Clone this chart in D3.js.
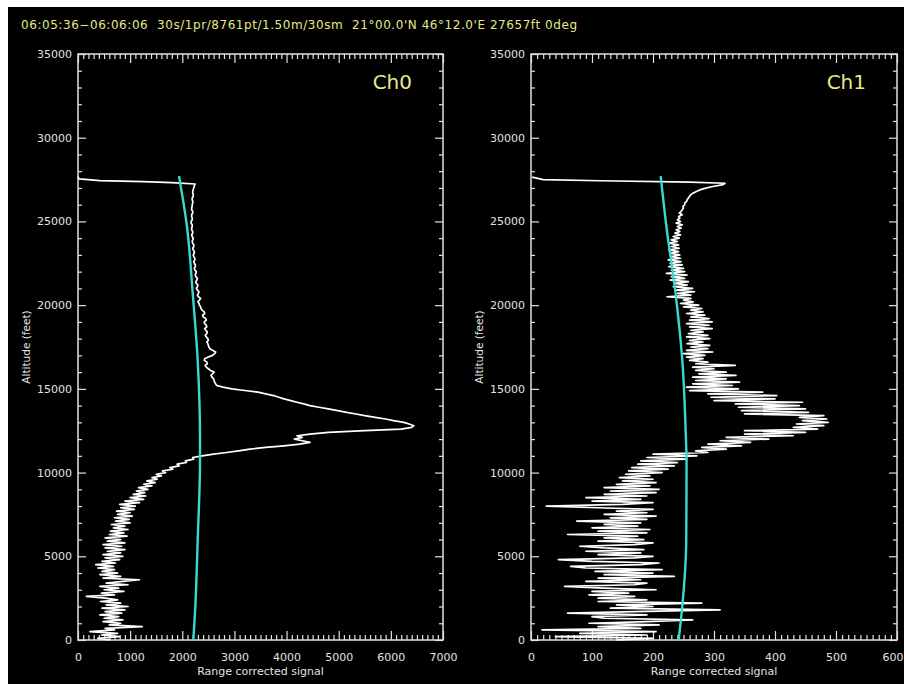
<!DOCTYPE html>
<html>
<head>
<meta charset="utf-8">
<script src="https://cdn.jsdelivr.net/npm/d3@7"></script>
<style>
  body { margin: 0; background: #fff; }
  svg { display: block; }
</style>
</head>
<body>
<div id="chart"></div>
<script>
// Header line
const titleText = "06:05:36\u221206:06:06  30s/1pr/8761pt/1.50m/30sm  21\u00b000.0'N 46\u00b012.0'E 27657ft 0deg";

// Profile sampling altitudes (feet), shared by both channels
const gridAlt = [
  0, 100, 200, 300, 400, 500, 600, 700, 800, 900,
  1000, 1100, 1200, 1300, 1400, 1500, 1600, 1700, 1800, 1900,
  2000, 2100, 2200, 2300, 2400, 2500, 2600, 2700, 2800, 2900,
  3000, 3100, 3200, 3300, 3400, 3500, 3600, 3700, 3800, 3900,
  4000, 4100, 4200, 4300, 4400, 4500, 4600, 4700, 4800, 4900,
  5000, 5100, 5200, 5300, 5400, 5500, 5600, 5700, 5800, 5900,
  6000, 6100, 6200, 6300, 6400, 6500, 6600, 6700, 6800, 6900,
  7000, 7100, 7200, 7300, 7400, 7500, 7600, 7700, 7800, 7900,
  8000, 8100, 8200, 8300, 8400, 8500, 8600, 8700, 8800, 8900,
  9000, 9100, 9200, 9300, 9400, 9500, 9600, 9700, 9800, 9900,
  10000, 10100, 10200, 10300, 10400, 10500, 10600, 10700, 10800, 10900,
  11000, 11100, 11200, 11300, 11400, 11500, 11600, 11700, 11800, 11900,
  12000, 12100, 12200, 12300, 12400, 12500, 12600, 12700, 12800, 12900,
  13000, 13100, 13200, 13300, 13400, 13500, 13600, 13700, 13800, 13900,
  14000, 14100, 14200, 14300, 14400, 14500, 14600, 14700, 14800, 14900,
  15000, 15100, 15200, 15300, 15400, 15500, 15600, 15700, 15800, 15900,
  16000, 16100, 16200, 16300, 16400, 16500, 16600, 16700, 16800, 16900,
  17000, 17100, 17200, 17300, 17400, 17500, 17600, 17700, 17800, 17900,
  18000, 18100, 18200, 18300, 18400, 18500, 18600, 18700, 18800, 18900,
  19000, 19100, 19200, 19300, 19400, 19500, 19600, 19700, 19800, 19900,
  20000, 20100, 20200, 20300, 20400, 20500, 20600, 20700, 20800, 20900,
  21000, 21100, 21200, 21300, 21400, 21500, 21600, 21700, 21800, 21900,
  22000, 22100, 22200, 22300, 22400, 22500, 22600, 22700, 22800, 22900,
  23000, 23100, 23200, 23300, 23400, 23500, 23600, 23700, 23800, 23900,
  24000, 24100, 24200, 24300, 24400, 24500, 24600, 24700, 24800, 24900,
  25000, 25100, 25200, 25300, 25400, 25500, 25600, 25700, 25800, 25900,
  26000, 26100, 26200, 26300, 26400, 26500, 26600, 26700, 26800, 26900,
  27000, 27100, 27200
];

// Ch0 range corrected signal
const ch0Signal = [
  620, 380, 800, 450, 760, 230, 700, 520, 1230, 600, 820,
  480, 860, 500, 780, 420, 840, 520, 900, 460, 960,
  540, 820, 430, 760, 520, 160, 700, 450, 880, 500,
  780, 420, 960, 540, 860, 1180, 480, 820, 420, 760,
  460, 700, 380, 680, 340, 720, 460, 800, 520, 860,
  480, 820, 560, 900, 520, 840, 480, 900, 560, 820,
  520, 940, 600, 880, 620, 960, 680, 900, 640, 1000,
  720, 980, 700, 1040, 760, 1000, 740, 1080, 820, 1100,
  800, 1180, 900, 1260, 1000, 1300, 1060, 1280, 1120, 1340,
  1160, 1420, 1260, 1480, 1320, 1520, 1420, 1600, 1500, 1680,
  1620, 1820, 1760, 1940, 1900, 2080, 2060, 2220, 2200, 2380,
  2600, 2850, 3080, 3300, 3600, 3950, 4250, 4450, 4300, 4150,
  4300, 4200, 4450, 4800, 5500, 6200, 6400, 6440, 6350, 6250,
  6050, 5900, 5700, 5500, 5330, 5150, 4980, 4800, 4620, 4450,
  4330, 4200, 4080, 3950, 3850, 3750, 3600, 3450, 3200, 2950,
  2780, 2660, 2640, 2620, 2610, 2600, 2570, 2550, 2580, 2610,
  2540, 2500, 2460, 2440, 2480, 2470, 2420, 2430, 2500, 2580,
  2620, 2640, 2580, 2530, 2510, 2500, 2490, 2470, 2500, 2490,
  2460, 2440, 2470, 2480, 2450, 2430, 2470, 2460, 2430, 2420,
  2460, 2450, 2400, 2390, 2430, 2420, 2380, 2360, 2350, 2330,
  2320, 2300, 2330, 2350, 2310, 2290, 2310, 2320, 2290, 2270,
  2290, 2300, 2270, 2260, 2280, 2290, 2260, 2250, 2260, 2270,
  2240, 2230, 2250, 2250, 2230, 2220, 2240, 2240, 2220, 2210,
  2230, 2230, 2210, 2200, 2220, 2220, 2200, 2190, 2200, 2210,
  2190, 2180, 2200, 2200, 2180, 2180, 2190, 2190, 2170, 2170,
  2190, 2190, 2180, 2180, 2200, 2200, 2180, 2180, 2190, 2190,
  2200, 2200, 2190, 2190, 2210, 2210, 2200, 2200, 2210, 2220,
  2230, 2240
];
const ch0TopAlt = [27237, 27316, 27376, 27435, 27540, 27680];
const ch0TopSignal = [2244, 1797, 1253, 420, 20, 0];

// Ch1 range corrected signal
const ch1Signal = [
  140, 200, 40, 190, 80, 205, 18, 180, 110, 210, 95,
  190, 265, 120, 100, 190, 60, 170, 310, 130, 200,
  140, 280, 110, 190, 110, 170, 95, 160, 100, 205,
  120, 55, 170, 190, 90, 180, 110, 235, 120, 200,
  105, 215, 90, 65, 180, 210, 100, 45, 170, 200,
  110, 180, 90, 185, 120, 80, 170, 200, 110, 185,
  120, 175, 60, 190, 110, 195, 100, 175, 120, 180,
  75, 190, 130, 205, 120, 190, 140, 200, 110, 25,
  150, 200, 100, 180, 90, 190, 120, 205, 130, 210,
  120, 195, 140, 205, 150, 200, 145, 195, 155, 215,
  160, 225, 165, 235, 175, 240, 180, 255, 190, 272,
  200, 290, 270, 320, 280, 345, 290, 360, 310, 390,
  320, 430, 350, 450, 350, 470, 430, 480, 435, 487,
  445, 485, 440, 480, 350, 455, 345, 450, 340, 440,
  335, 445, 300, 400, 295, 403, 290, 380, 260, 340,
  255, 330, 265, 342, 270, 320, 265, 336, 275, 320,
  270, 300, 265, 335, 270, 290, 260, 282, 255, 285,
  250, 298, 255, 290, 262, 293, 256, 282, 260, 293,
  255, 290, 258, 282, 262, 297, 260, 292, 255, 297,
  260, 292, 262, 285, 255, 282, 262, 280, 250, 275,
  245, 266, 250, 262, 223, 262, 240, 268, 238, 265,
  233, 256, 235, 258, 228, 252, 230, 256, 222, 252,
  230, 250, 226, 248, 228, 246, 225, 245, 230, 244,
  228, 242, 226, 243, 230, 242, 226, 240, 230, 243,
  233, 245, 236, 244, 238, 246, 240, 248, 238, 245,
  240, 244, 242, 248, 243, 246, 248, 250, 249, 252,
  252, 255, 256, 258, 260, 262, 266, 272, 278, 288,
  300, 315
];
const ch1TopAlt = [27280, 27350, 27430, 27500, 27650];
const ch1TopSignal = [318, 260, 113, 20, 2];

// Molecular (clear air) reference curves
const molAlt = [0, 2000, 6000, 10750, 12000, 16725, 20700, 24690, 27710];
const ch0Mol = [2212, 2250, 2296, 2340, 2340, 2295, 2200, 2090, 1937];
const ch1Mol = [242, 248, 254.5, 255, 254, 248, 237, 222, 212.6];

// Tick labels
const yTicks = [0, 5000, 10000, 15000, 20000, 25000, 30000, 35000];
const ch0XTicks = [0, 1000, 2000, 3000, 4000, 5000, 6000, 7000];
const ch1XTicks = [0, 100, 200, 300, 400, 500, 600];

const width = 904;
const height = 684;
const textColor = "#e2e2e2";
const yellow = "#e8e888";
const cyan = "#3cd8d2";
const font = "'DejaVu Sans', sans-serif";

const svg = d3.select("#chart").append("svg")
  .attr("width", width)
  .attr("height", height);

// Background (image sits slightly offset on white)
svg.append("rect").attr("width", width).attr("height", height).attr("fill", "#fff");
svg.append("rect")
  .attr("x", 8).attr("y", 7)
  .attr("width", width - 8).attr("height", height - 7)
  .attr("fill", "#000");

svg.append("text")
  .attr("x", 21)
  .attr("y", 29)
  .attr("fill", yellow)
  .attr("font-family", font)
  .attr("font-size", 12)
  .attr("textLength", 556)
  .attr("lengthAdjust", "spacing")
  .style("white-space", "pre")
  .text(titleText);

const panels = [
  { label: "Ch0", alt: gridAlt.concat(ch0TopAlt), signal: ch0Signal.concat(ch0TopSignal),
    mol: ch0Mol, xTicks: ch0XTicks, xMinor: 100, x0: 78, x1: 443 },
  { label: "Ch1", alt: gridAlt.concat(ch1TopAlt), signal: ch1Signal.concat(ch1TopSignal),
    mol: ch1Mol, xTicks: ch1XTicks, xMinor: 10, x0: 531, x1: 897 }
];

const yTop = 54;
const yBottom = 640;

function drawAxis(g, axis, tx, ty) {
  const a = g.append("g")
    .attr("transform", `translate(${tx},${ty})`)
    .call(axis);
  a.select(".domain").remove();
  a.attr("font-family", font).attr("font-size", 11);
  a.selectAll("line").attr("stroke", textColor).attr("stroke-width", 1.2);
  a.selectAll("text").attr("fill", textColor);
  return a;
}

panels.forEach(p => {
  const xMax = d3.max(p.xTicks);
  const x = d3.scaleLinear().domain([0, xMax]).range([p.x0, p.x1]);
  const y = d3.scaleLinear().domain([0, 35000]).range([yBottom, yTop]);
  const g = svg.append("g");

  const xMinor = d3.range(0, xMax, p.xMinor).filter(v => !p.xTicks.includes(v));
  const yMinor = d3.range(0, 35000, 1000).filter(v => !yTicks.includes(v));

  // Frame
  g.append("rect")
    .attr("x", p.x0).attr("y", yTop)
    .attr("width", p.x1 - p.x0).attr("height", yBottom - yTop)
    .attr("fill", "none")
    .attr("stroke", textColor)
    .attr("stroke-width", 1.5);

  // Ticks, all pointing inward
  const bottom = drawAxis(g, d3.axisBottom(x).tickValues(p.xTicks).tickSize(-9).tickPadding(13).tickFormat(d3.format("d")), 0, yBottom);
  // keep the last label inside the page
  bottom.selectAll("text").filter(d => x(d) + 12 > width)
    .attr("text-anchor", "end")
    .attr("x", d => width - 1 - x(d));
  drawAxis(g, d3.axisBottom(x).tickValues(xMinor).tickSize(-5).tickFormat(""), 0, yBottom);
  drawAxis(g, d3.axisTop(x).tickValues(p.xTicks).tickSize(-9).tickFormat(""), 0, yTop);
  drawAxis(g, d3.axisTop(x).tickValues(xMinor).tickSize(-5).tickFormat(""), 0, yTop);
  drawAxis(g, d3.axisLeft(y).tickValues(yTicks).tickSize(-8).tickPadding(6).tickFormat(d3.format("d")), p.x0, 0);
  drawAxis(g, d3.axisLeft(y).tickValues(yMinor).tickSize(-4).tickFormat(""), p.x0, 0);
  drawAxis(g, d3.axisRight(y).tickValues(yTicks).tickSize(-8).tickFormat(""), p.x1, 0);
  drawAxis(g, d3.axisRight(y).tickValues(yMinor).tickSize(-4).tickFormat(""), p.x1, 0);

  // Signal profile
  const line = d3.line().x(d => x(d[1])).y(d => y(d[0]));
  g.append("path")
    .datum(d3.zip(p.alt, p.signal))
    .attr("d", line)
    .attr("fill", "none")
    .attr("stroke", "#fff")
    .attr("stroke-width", 1.7)
    .attr("stroke-linejoin", "round");

  // Molecular curve
  const molLine = d3.line().x(d => x(d[1])).y(d => y(d[0])).curve(d3.curveMonotoneY);
  g.append("path")
    .datum(d3.zip(molAlt, p.mol))
    .attr("d", molLine)
    .attr("fill", "none")
    .attr("stroke", cyan)
    .attr("stroke-width", 2.4);

  // Labels
  g.append("text")
    .attr("x", p.x1 - 31)
    .attr("y", 89)
    .attr("text-anchor", "end")
    .attr("fill", yellow)
    .attr("font-family", font)
    .attr("font-size", 20)
    .text(p.label);

  g.append("text")
    .attr("x", (p.x0 + p.x1) / 2)
    .attr("y", 675)
    .attr("text-anchor", "middle")
    .attr("fill", textColor)
    .attr("font-family", font)
    .attr("font-size", 11)
    .text("Range corrected signal");

  g.append("text")
    .attr("transform", `translate(${p.x0 - 48},${(yTop + yBottom) / 2}) rotate(-90)`)
    .attr("text-anchor", "middle")
    .attr("fill", textColor)
    .attr("font-family", font)
    .attr("font-size", 10.5)
    .text("Altitude (feet)");
});
</script>
</body>
</html>
